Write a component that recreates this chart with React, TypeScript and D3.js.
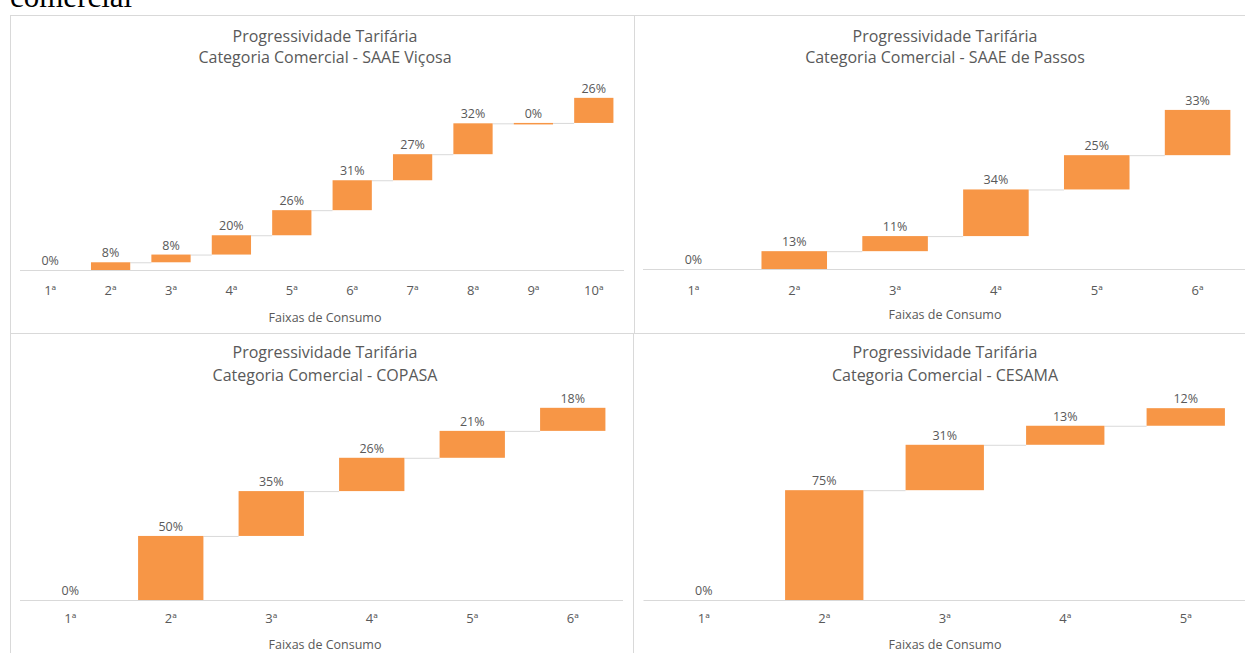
import React from 'react';
import * as d3 from 'd3';

// ---- data ----
const vicosaCategories = ['1ª', '2ª', '3ª', '4ª', '5ª', '6ª', '7ª', '8ª', '9ª', '10ª'];
const vicosaValues = [0, 8, 8, 20, 26, 31, 27, 32, 0.4, 26];
const passosCategories = ['1ª', '2ª', '3ª', '4ª', '5ª', '6ª'];
const passosValues = [0, 13, 11, 34, 25, 33];
const copasaCategories = ['1ª', '2ª', '3ª', '4ª', '5ª', '6ª'];
const copasaValues = [0, 50, 35, 26, 21, 18];
const cesamaCategories = ['1ª', '2ª', '3ª', '4ª', '5ª'];
const cesamaValues = [0, 75, 31, 13, 12];
const chartTitle = 'Progressividade Tarifária';
const subtitles = [
  'Categoria Comercial - SAAE Viçosa',
  'Categoria Comercial - SAAE de Passos',
  'Categoria Comercial - COPASA',
  'Categoria Comercial - CESAMA',
];
const axisTitle = 'Faixas de Consumo';
const yMaxes = [200, 140, 160, 140];
const headingText = 'comercial';

const BAR = '#F79646';
const GRID = '#d9d9d9';
const TEXT = '#595959';
const FONT = '"Open Sans", "Noto Sans", sans-serif';

type Layout = {
  fx0: number; fy0: number; fx1: number; fy1: number;
  left: number; right: number; top: number; bottom: number;
  titleX: number; t1: number; t2: number; tickY: number; axisY: number;
};

function Waterfall({ cats, values, sub, ymax, L }: { cats: string[]; values: number[]; sub: string; ymax: number; L: Layout }) {
  const x = d3.scaleBand<string>().domain(cats).range([L.left, L.right]).paddingInner(0.35).paddingOuter(0.175);
  const y = d3.scaleLinear().domain([0, ymax]).range([L.bottom, L.top]);
  const ends = d3.cumsum(values);
  const starts = ends.map((e, i) => e - values[i]);
  const fmt = (v: number) => `${Math.round(v)}%`;
  return (
    <g>
      <rect x={L.fx0} y={L.fy0} width={L.fx1 - L.fx0} height={L.fy1 - L.fy0} fill="#fff" stroke={GRID} strokeWidth={1} />
      <text x={L.titleX} y={L.t1} textAnchor="middle" fontSize={16} fill={TEXT} fontFamily={FONT}>{chartTitle}</text>
      <text x={L.titleX} y={L.t2} textAnchor="middle" fontSize={16} fill={TEXT} fontFamily={FONT}>{sub}</text>
      <line x1={L.left} x2={L.right} y1={L.bottom + 0.5} y2={L.bottom + 0.5} stroke={GRID} strokeWidth={1} />
      {cats.slice(0, -1).map((c, i) => (
        <line key={'c' + i} x1={(x(c) ?? 0) + x.bandwidth()} x2={x(cats[i + 1]) ?? 0}
          y1={y(ends[i]) + 0.5} y2={y(ends[i]) + 0.5} stroke={GRID} strokeWidth={1} />
      ))}
      {cats.map((c, i) => {
        const yTop = y(ends[i]);
        const h = y(starts[i]) - yTop;
        return (
          <g key={'b' + i}>
            {values[i] > 0 && (
              <rect x={x(c)} y={yTop} width={x.bandwidth()} height={Math.max(h, 1.5)} fill={BAR} />
            )}
            <text x={(x(c) ?? 0) + x.bandwidth() / 2} y={yTop - 5} textAnchor="middle" fontSize={12.5} fill={TEXT} fontFamily={FONT}>{fmt(values[i])}</text>
            <text x={(x(c) ?? 0) + x.bandwidth() / 2} y={L.tickY} textAnchor="middle" fontSize={13} fill={TEXT} fontFamily={FONT}>{c}</text>
          </g>
        );
      })}
      <text x={L.titleX} y={L.axisY} textAnchor="middle" fontSize={12.5} fill={TEXT} fontFamily={FONT}>{axisTitle}</text>
    </g>
  );
}

export default function App() {
  const layouts: Layout[] = [
    { fx0: 10.5, fy0: 15.5, fx1: 634.5, fy1: 333.5, left: 20, right: 624, top: 77, bottom: 270, titleX: 325, t1: 42, t2: 63, tickY: 295, axisY: 322 },
    { fx0: 634.5, fy0: 15.5, fx1: 1252, fy1: 333.5, left: 643, right: 1248, top: 77, bottom: 269, titleX: 945, t1: 42, t2: 63, tickY: 295, axisY: 319 },
    { fx0: 10.5, fy0: 333.5, fx1: 633.5, fy1: 660, left: 20, right: 623, top: 395, bottom: 600, titleX: 325, t1: 358, t2: 381, tickY: 623, axisY: 649 },
    { fx0: 633.5, fy0: 333.5, fx1: 1252, fy1: 660, left: 643.5, right: 1246, top: 395, bottom: 600, titleX: 945, t1: 358, t2: 381, tickY: 623, axisY: 649 },
  ];
  const cats = [vicosaCategories, passosCategories, copasaCategories, cesamaCategories];
  const vals = [vicosaValues, passosValues, copasaValues, cesamaValues];
  return (
    <svg width={1245} height={653} style={{ position: 'absolute', left: 0, top: 0, background: '#fff' }}>
      <rect x={0} y={0} width={1245} height={653} fill="#fff" />
      <text x={10} y={7} fontSize={31} fontFamily='"Liberation Serif", "Times New Roman", serif' fill="#000">{headingText}</text>
      {layouts.map((L, i) => (
        <Waterfall key={i} cats={cats[i]} values={vals[i]} sub={subtitles[i]} ymax={yMaxes[i]} L={L} />
      ))}
    </svg>
  );
}
